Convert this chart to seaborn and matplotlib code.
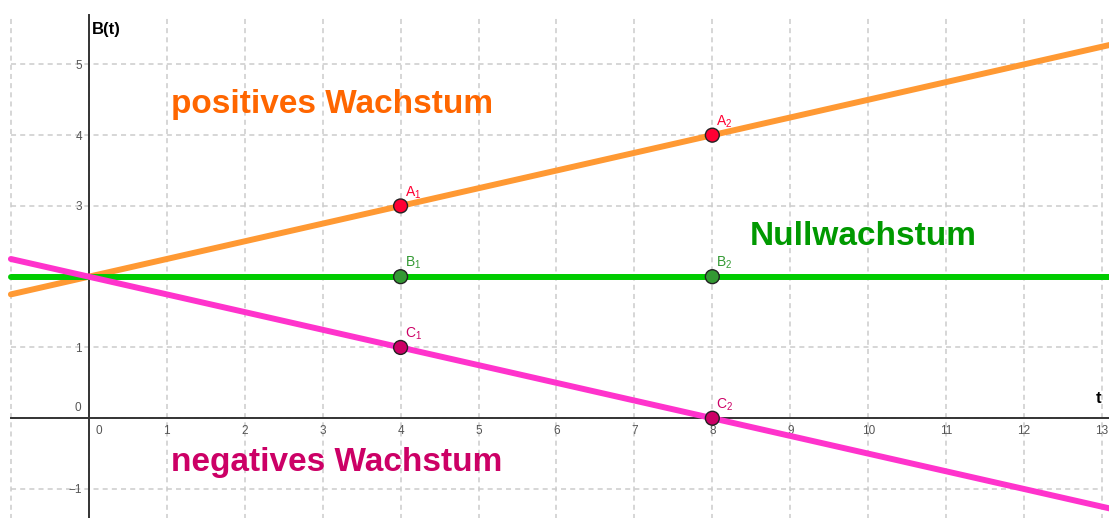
import numpy as np
import pandas as pd
import matplotlib
matplotlib.use("Agg")
import matplotlib.pyplot as plt
import seaborn as sns

# ---- data ----
t_line = [-1.0, 13.2]
positive_vals = [1.75, 5.3]      # B(t) = 2 + 0.25 t
null_vals = [2.0, 2.0]           # B(t) = 2
negative_vals = [2.25, -1.3]     # B(t) = 2 - 0.25 t

point_names = ["A", "A", "B", "B", "C", "C"]
point_idx = ["1", "2", "1", "2", "1", "2"]
point_t = [4, 8, 4, 8, 4, 8]
point_b = [3, 4, 2, 2, 1, 0]

x_ticks = list(range(-1, 14))
y_ticks = list(range(-1, 6))

sns.set_theme(style="white")
plt.rcParams['font.family'] = ['Liberation Sans', 'DejaVu Sans']
plt.rcParams['mathtext.fontset'] = 'custom'
plt.rcParams['mathtext.rm'] = 'Liberation Sans'

fig = plt.figure(figsize=(11.09, 5.18), dpi=100)
ax = fig.add_axes([0, 0, 1, 1])
ax.set_xlim(-1.14, 13.09)
ax.set_ylim(-1.41, 5.91)

grid_top = 5.70
grid_bottom = -1.45
# grid
ax.vlines(x_ticks, grid_bottom, grid_top, color="#cccccc", lw=1.1,
          linestyles=[(0, (3.3, 2.7))], zorder=0)
ax.hlines(y_ticks, -1, 13, color="#cccccc", lw=1.1,
          linestyles=[(0, (3.3, 2.7))], zorder=0)

# lines
lines = pd.DataFrame({
    "t": t_line * 3,
    "B": positive_vals + null_vals + negative_vals,
    "kind": ["pos"] * 2 + ["null"] * 2 + ["neg"] * 2,
})
palette = {"pos": "#ff9933", "null": "#00cc00", "neg": "#ff33cc"}
sns.lineplot(data=lines, x="t", y="B", hue="kind", palette=palette,
             linewidth=4.3, legend=False, ax=ax, zorder=3, estimator=None,
             sort=False)

# points
pts = pd.DataFrame({"t": point_t, "B": point_b, "name": point_names})
pt_colors = {"A": "#ff0033", "B": "#339933", "C": "#cc0066"}
sns.scatterplot(data=pts, x="t", y="B", hue="name", palette=pt_colors,
                s=100, edgecolor="#222222", linewidth=1.0, legend=False,
                ax=ax, zorder=5)
lab_colors = {"A": "#ff0033", "B": "#339933", "C": "#cc0066"}
for n, i, tv, bv in zip(point_names, point_idx, point_t, point_b):
    ax.annotate(r"$\mathregular{%s_{%s}}$" % (n, i), (tv, bv),
                xytext=(3, 7), textcoords="offset points",
                color=lab_colors[n], fontsize=10, zorder=6)

# axes
ax.spines["left"].set_position(("data", 0))
ax.spines["bottom"].set_position(("data", 0))
ax.spines["top"].set_visible(False)
ax.spines["right"].set_visible(False)
ax.spines["left"].set_bounds(grid_bottom, grid_top)
ax.spines["bottom"].set_bounds(-1.0, 13.2)
for s in ("left", "bottom"):
    ax.spines[s].set_color("#333333")
    ax.spines[s].set_linewidth(1.4)
    ax.spines[s].set_zorder(2)

xt = [v for v in x_ticks if v > 0]
ax.set_xticks(xt)
ax.set_xticklabels([str(v) for v in xt])
yt = [v for v in y_ticks if v != 0]
ax.set_yticks(yt)
ax.set_yticklabels(["" if v == 2 else ("\u22121" if v < 0 else str(v)) for v in yt])
ax.tick_params(axis="both", direction="out", length=3, width=1,
               color="#333333", labelsize=8.5, labelcolor="#555555", pad=2)
ax.text(0.08, -0.1, "0", fontsize=8.5, color="#555555", ha="left", va="top")
ax.text(-0.1, 0.06, "0", fontsize=8.5, color="#555555", ha="right", va="bottom")

ax.set_xlabel("")
ax.set_ylabel("")
ax.text(0.04, 5.5, "B(t)", fontsize=12, fontweight="bold", color="black",
        ha="left", va="center")
ax.text(12.96, 0.28, "t", fontsize=12, fontweight="bold", color="black",
        ha="center", va="center")

# labels
ax.text(1.06, 4.44, "positives Wachstum", fontsize=24, fontweight="bold",
        color="#ff6600", ha="left", va="center")
ax.text(8.48, 2.57, "Nullwachstum", fontsize=24, fontweight="bold",
        color="#009900", ha="left", va="center")
ax.text(1.06, -0.62, "negatives Wachstum", fontsize=24, fontweight="bold",
        color="#cc0066", ha="left", va="center")

fig.savefig("out.png", dpi=100)
